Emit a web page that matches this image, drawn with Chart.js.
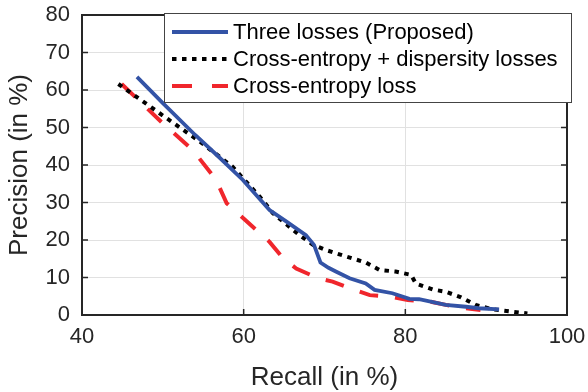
<!DOCTYPE html>
<html>
<head>
<meta charset="utf-8">
<script src="https://cdn.jsdelivr.net/npm/chart.js@4"></script>
<style>
  html, body { margin: 0; padding: 0; background: #fff; }
  #wrap { width: 588px; height: 392px; }
</style>
</head>
<body>
<div id="wrap"><canvas id="chart" width="588" height="392"></canvas></div>
<script>
// ================= DATA =================
const seriesNames = ["Three losses (Proposed)", "Cross-entropy + dispersity losses", "Cross-entropy loss"];

const threeRecall    = [46.8, 50.0, 54.0, 57.0, 59.9, 63.2, 65.3, 67.7, 68.7, 69.5, 70.5, 71.4, 73.1, 75.1, 76.2, 78.4, 80.5, 81.7, 85.0, 87.5, 89.1, 91.6];
const threePrecision = [63.5, 56.5, 48.0, 42.0, 36.0, 28.0, 24.9, 21.3, 18.7, 14.0, 12.6, 11.6,  9.8,  8.4,  6.7,  5.8,  4.3,  4.2,  2.7,  2.2,  1.8,  1.5];

const dispRecall    = [44.5, 49.6, 54.6, 58.6, 62.0, 63.6, 66.9, 68.6, 70.2, 72.7, 75.1, 76.8, 78.8, 80.7, 81.3, 83.4, 85.0, 86.9, 88.7, 90.8, 93.2, 95.1];
const dispPrecision = [61.6, 53.8, 46.2, 39.6, 31.5, 27.2, 21.3, 18.7, 17.3, 15.6, 14.0, 12.0, 11.6, 10.7,  8.4,  6.8,  6.2,  4.7,  2.7,  1.5,  0.9,  0.4];

const ceRecall    = [44.9, 50.0, 53.7, 56.6, 57.9, 59.5, 63.2, 64.9, 66.5, 69.2, 71.0, 73.7, 75.6, 78.2, 80.3, 83.0, 85.0, 87.5, 89.3];
const cePrecision = [61.6, 51.1, 44.0, 36.0, 29.8, 26.7, 19.5, 15.1, 12.4,  9.8,  8.9,  6.7,  5.3,  4.9,  4.0,  3.6,  2.7,  1.8,  1.3];

const xTicks = [40, 60, 80, 100];
const yTicks = [0, 10, 20, 30, 40, 50, 60, 70, 80];

const toPoints = (xs, ys) => xs.map((x, i) => ({ x: x, y: ys[i] }));

// ================= STYLE =================
const FONT = "'Liberation Sans', Arial, Helvetica, sans-serif";
const TEXT = "#262626";
const BLUE = "#3353a6";
const RED = "#f0262c";

// ================= PLUGINS =================
// box round the plot with inward ticks, like the original figure
const boxPlugin = {
  id: "box",
  afterDraw(chart) {
    const { ctx, chartArea: a, scales } = chart;
    ctx.save();
    ctx.strokeStyle = TEXT;
    ctx.lineWidth = 1.5;
    xTicks.forEach(v => {
      const px = scales.x.getPixelForValue(v);
      ctx.beginPath();
      ctx.moveTo(px, a.bottom); ctx.lineTo(px, a.bottom - 6);
      ctx.moveTo(px, a.top); ctx.lineTo(px, a.top + 6);
      ctx.stroke();
    });
    yTicks.forEach(v => {
      const py = scales.y.getPixelForValue(v);
      ctx.beginPath();
      ctx.moveTo(a.left, py); ctx.lineTo(a.left + 6, py);
      ctx.moveTo(a.right, py); ctx.lineTo(a.right - 6, py);
      ctx.stroke();
    });
    ctx.lineWidth = 2;
    ctx.strokeRect(a.left, a.top, a.right - a.left, a.bottom - a.top);
    ctx.restore();
  }
};

// legend box in the upper right, drawn on top
const legendPlugin = {
  id: "boxLegend",
  afterDraw(chart) {
    const { ctx } = chart;
    const bx = 164, by = 13, bw = 407, bh = 89;
    ctx.save();
    ctx.fillStyle = "#fff";
    ctx.fillRect(bx, by, bw, bh);
    ctx.strokeStyle = "#444";
    ctx.lineWidth = 1;
    ctx.strokeRect(bx + 0.5, by + 0.5, bw, bh);
    ctx.font = "22px " + FONT;
    ctx.textBaseline = "middle";
    chart.data.datasets.forEach((ds, i) => {
      const y = by + 19 + i * 27;
      ctx.beginPath();
      ctx.strokeStyle = ds.borderColor;
      ctx.lineWidth = ds.borderWidth;
      ctx.setLineDash(i === 2 ? [20, 20] : (ds.borderDash || []));
      ctx.moveTo(172, y);
      ctx.lineTo(228, y);
      ctx.stroke();
      ctx.setLineDash([]);
      ctx.fillStyle = "#000";
      ctx.fillText(ds.label, 233, y + 1);
    });
    ctx.restore();
  }
};

// ================= CHART =================
const ctx = document.getElementById("chart").getContext("2d");

new Chart(ctx, {
  type: "line",
  data: {
    datasets: [
      {
        label: seriesNames[0],
        data: toPoints(threeRecall, threePrecision),
        borderColor: BLUE,
        borderWidth: 3.8,
        pointRadius: 0,
        tension: 0
      },
      {
        label: seriesNames[1],
        data: toPoints(dispRecall, dispPrecision),
        borderColor: "#000",
        borderWidth: 4,
        borderDash: [4.5, 5.5],
        pointRadius: 0,
        tension: 0
      },
      {
        label: seriesNames[2],
        data: toPoints(ceRecall, cePrecision),
        borderColor: RED,
        borderWidth: 4,
        borderDash: [19, 17],
        pointRadius: 0,
        tension: 0
      }
    ]
  },
  options: {
    responsive: false,
    animation: false,
    layout: { padding: { top: 15, right: 21, left: 0, bottom: 0 } },
    plugins: {
      legend: { display: false },
      tooltip: { enabled: false }
    },
    scales: {
      x: {
        type: "linear",
        min: 40,
        max: 100,
        afterFit: s => { s.height = 77; s.paddingLeft = 0; s.paddingRight = 0; },
        afterBuildTicks: s => { s.ticks = xTicks.map(v => ({ value: v })); },
        grid: { color: "#e1e1e1", lineWidth: 1, drawTicks: false },
        border: { display: false },
        ticks: { color: TEXT, font: { family: FONT, size: 22 }, padding: 9, maxRotation: 0 },
        title: {
          display: true,
          text: "Recall (in %)",
          color: TEXT,
          font: { family: FONT, size: 26, lineHeight: 1 },
          padding: { top: 0, bottom: 1 }
        }
      },
      y: {
        type: "linear",
        min: 0,
        max: 80,
        afterFit: s => { s.width = 82; s.paddingTop = 0; s.paddingBottom = 0; },
        afterBuildTicks: s => { s.ticks = yTicks.map(v => ({ value: v })); },
        grid: { color: "#e1e1e1", lineWidth: 1, drawTicks: false },
        border: { display: false },
        ticks: { color: TEXT, font: { family: FONT, size: 22 }, padding: 12 },
        title: {
          display: true,
          text: "Precision (in %)",
          color: TEXT,
          font: { family: FONT, size: 26, lineHeight: 1 },
          padding: { top: 7, bottom: 0 }
        }
      }
    }
  },
  plugins: [boxPlugin, legendPlugin]
});
</script>
</body>
</html>
